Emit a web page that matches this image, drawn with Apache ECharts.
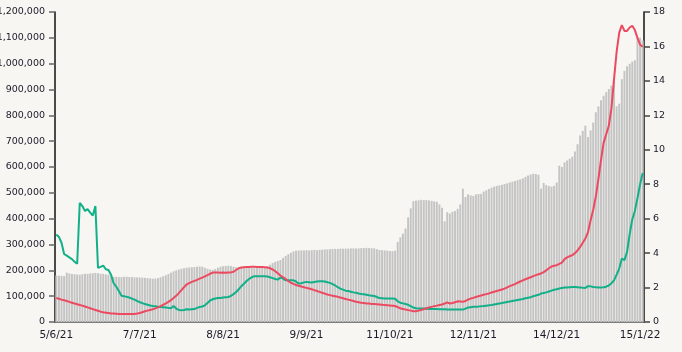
<!DOCTYPE html>
<html>
<head>
<meta charset="utf-8">
<script src="https://cdn.jsdelivr.net/npm/echarts@6/dist/echarts.min.js"></script>
<style>
html,body{margin:0;padding:0;background:#f7f6f2;}
#chart{width:682px;height:352px;}
</style>
</head>
<body>
<div id="chart"></div>
<script>
var categories = [
'5/6/21','6/6/21','7/6/21','8/6/21','9/6/21','10/6/21','11/6/21','12/6/21','13/6/21','14/6/21','15/6/21','16/6/21','17/6/21','18/6/21','19/6/21','20/6/21','21/6/21','22/6/21','23/6/21','24/6/21','25/6/21','26/6/21','27/6/21','28/6/21','29/6/21','30/6/21',
'1/7/21','2/7/21','3/7/21','4/7/21','5/7/21','6/7/21','7/7/21','8/7/21','9/7/21','10/7/21','11/7/21','12/7/21','13/7/21','14/7/21','15/7/21','16/7/21','17/7/21','18/7/21','19/7/21','20/7/21','21/7/21','22/7/21','23/7/21','24/7/21','25/7/21','26/7/21','27/7/21','28/7/21','29/7/21','30/7/21','31/7/21',
'1/8/21','2/8/21','3/8/21','4/8/21','5/8/21','6/8/21','7/8/21','8/8/21','9/8/21','10/8/21','11/8/21','12/8/21','13/8/21','14/8/21','15/8/21','16/8/21','17/8/21','18/8/21','19/8/21','20/8/21','21/8/21','22/8/21','23/8/21','24/8/21','25/8/21','26/8/21','27/8/21','28/8/21','29/8/21','30/8/21','31/8/21',
'1/9/21','2/9/21','3/9/21','4/9/21','5/9/21','6/9/21','7/9/21','8/9/21','9/9/21','10/9/21','11/9/21','12/9/21','13/9/21','14/9/21','15/9/21','16/9/21','17/9/21','18/9/21','19/9/21','20/9/21','21/9/21','22/9/21','23/9/21','24/9/21','25/9/21','26/9/21','27/9/21','28/9/21','29/9/21','30/9/21',
'1/10/21','2/10/21','3/10/21','4/10/21','5/10/21','6/10/21','7/10/21','8/10/21','9/10/21','10/10/21','11/10/21','12/10/21','13/10/21','14/10/21','15/10/21','16/10/21','17/10/21','18/10/21','19/10/21','20/10/21','21/10/21','22/10/21','23/10/21','24/10/21','25/10/21','26/10/21','27/10/21','28/10/21','29/10/21','30/10/21','31/10/21',
'1/11/21','2/11/21','3/11/21','4/11/21','5/11/21','6/11/21','7/11/21','8/11/21','9/11/21','10/11/21','11/11/21','12/11/21','13/11/21','14/11/21','15/11/21','16/11/21','17/11/21','18/11/21','19/11/21','20/11/21','21/11/21','22/11/21','23/11/21','24/11/21','25/11/21','26/11/21','27/11/21','28/11/21','29/11/21','30/11/21',
'1/12/21','2/12/21','3/12/21','4/12/21','5/12/21','6/12/21','7/12/21','8/12/21','9/12/21','10/12/21','11/12/21','12/12/21','13/12/21','14/12/21','15/12/21','16/12/21','17/12/21','18/12/21','19/12/21','20/12/21','21/12/21','22/12/21','23/12/21','24/12/21','25/12/21','26/12/21','27/12/21','28/12/21','29/12/21','30/12/21','31/12/21',
'1/1/22','2/1/22','3/1/22','4/1/22','5/1/22','6/1/22','7/1/22','8/1/22','9/1/22','10/1/22','11/1/22','12/1/22','13/1/22','14/1/22','15/1/22','16/1/22'
];

var barValues = [
180000,179000,179000,178000,191000,188000,186000,185000,184000,183000,185000,187000,186000,188000,189000,190000,189000,187000,186000,184000,183000,176000,175000,175000,174000,174000,
175000,175000,174000,174000,173000,173000,172000,172000,171000,170000,169000,168000,168000,170000,173000,177000,181000,186000,191000,196000,200000,203000,206000,208000,210000,211000,212000,213000,214000,215000,214000,
210000,206000,203000,202000,205000,210000,214000,216000,217000,218000,217000,214000,212000,211000,211000,210000,210000,210000,211000,210000,209000,209000,210000,212000,216000,222000,228000,233000,236000,240000,248000,
256000,262000,268000,273000,276000,277000,277000,277000,278000,277000,278000,279000,278000,279000,280000,281000,281000,282000,283000,283000,283000,284000,284000,284000,284000,285000,285000,285000,285000,286000,
286000,287000,286000,286000,285000,282000,279000,278000,277000,276000,275000,274000,276000,310000,328000,342000,362000,405000,440000,468000,470000,471000,473000,472000,472000,470000,469000,467000,465000,455000,442000,
390000,425000,420000,427000,430000,438000,455000,516000,484000,494000,490000,488000,494000,495000,496000,505000,510000,515000,520000,524000,527000,529000,531000,534000,537000,540000,543000,546000,549000,552000,
556000,562000,567000,571000,574000,573000,570000,516000,538000,530000,526000,524000,527000,540000,605000,600000,618000,625000,632000,640000,660000,688000,722000,740000,760000,716000,742000,772000,812000,835000,858000,
876000,890000,902000,915000,935000,835000,845000,940000,972000,990000,1000000,1008000,1013000,1103000,1100000,1090000
];

var redValues = [
1.39,1.35,1.30,1.26,1.22,1.17,1.12,1.07,1.03,0.99,0.95,0.90,0.85,0.80,0.75,0.70,0.65,0.60,0.56,0.54,0.52,0.50,0.49,0.48,0.47,0.47,
0.46,0.46,0.46,0.47,0.47,0.49,0.52,0.57,0.62,0.66,0.70,0.74,0.79,0.85,0.92,1.00,1.08,1.17,1.27,1.39,1.52,1.68,1.85,2.02,2.18,2.26,2.33,2.39,2.45,2.52,2.58,
2.65,2.72,2.80,2.87,2.88,2.87,2.86,2.87,2.86,2.87,2.88,2.92,3.02,3.12,3.16,3.18,3.19,3.20,3.21,3.21,3.20,3.20,3.19,3.18,3.16,3.12,3.05,2.95,2.83,2.70,2.60,
2.50,2.38,2.28,2.21,2.15,2.10,2.06,2.02,1.98,1.94,1.90,1.85,1.80,1.75,1.70,1.65,1.60,1.56,1.52,1.49,1.46,1.42,1.38,1.34,1.30,1.26,1.22,1.18,1.15,1.12,
1.10,1.08,1.07,1.05,1.04,1.03,1.02,1.00,0.98,0.97,0.96,0.95,0.93,0.86,0.80,0.76,0.72,0.69,0.66,0.63,0.62,0.66,0.70,0.75,0.80,0.84,0.88,0.92,0.95,0.99,1.02,
1.07,1.14,1.07,1.10,1.15,1.20,1.19,1.17,1.22,1.30,1.36,1.40,1.45,1.50,1.54,1.58,1.62,1.66,1.71,1.76,1.80,1.84,1.89,1.94,2.01,2.08,2.14,2.20,2.28,2.35,
2.42,2.48,2.54,2.60,2.66,2.72,2.77,2.82,2.90,3.00,3.12,3.22,3.27,3.30,3.38,3.45,3.65,3.75,3.82,3.88,4.00,4.15,4.36,4.60,4.85,5.20,5.90,6.50,7.27,8.30,9.40,
10.40,10.90,11.40,12.40,14.10,15.70,16.80,17.24,16.90,16.90,17.10,17.20,16.95,16.50,16.10,15.98
];

var greenValues = [
5.08,4.94,4.60,3.95,3.85,3.75,3.65,3.50,3.38,6.92,6.73,6.45,6.55,6.35,6.18,6.74,3.14,3.20,3.28,3.06,3.02,2.75,2.25,2.05,1.80,1.52,
1.50,1.46,1.42,1.36,1.30,1.22,1.15,1.10,1.04,1.00,0.96,0.93,0.91,0.88,0.87,0.86,0.84,0.82,0.80,0.93,0.78,0.70,0.68,0.70,0.74,0.73,0.74,0.75,0.82,0.87,0.90,
0.97,1.10,1.25,1.32,1.36,1.39,1.40,1.42,1.44,1.45,1.52,1.62,1.74,1.90,2.08,2.22,2.38,2.50,2.60,2.66,2.66,2.66,2.65,2.66,2.64,2.60,2.55,2.50,2.46,2.58,2.52,
2.42,2.42,2.43,2.42,2.35,2.23,2.25,2.30,2.33,2.31,2.29,2.32,2.35,2.36,2.37,2.35,2.31,2.27,2.20,2.12,2.03,1.94,1.88,1.82,1.80,1.76,1.72,1.70,1.66,1.63,
1.61,1.58,1.55,1.53,1.51,1.45,1.39,1.38,1.37,1.37,1.36,1.36,1.35,1.20,1.12,1.08,1.04,1.00,0.92,0.84,0.80,0.79,0.78,0.78,0.77,0.76,0.76,0.75,0.75,0.74,0.74,
0.74,0.73,0.73,0.72,0.72,0.72,0.72,0.72,0.78,0.84,0.86,0.88,0.89,0.90,0.92,0.93,0.95,0.97,0.99,1.02,1.05,1.08,1.10,1.13,1.16,1.19,1.22,1.25,1.28,1.31,
1.34,1.38,1.41,1.44,1.50,1.54,1.58,1.65,1.68,1.72,1.77,1.82,1.87,1.90,1.94,1.98,2.00,2.01,2.02,2.03,2.03,2.02,2.01,1.99,1.98,2.08,2.07,2.03,2.02,2.00,2.00,
2.02,2.05,2.12,2.25,2.42,2.75,3.10,3.68,3.59,4.07,5.10,5.95,6.45,7.20,8.00,8.65
];

var leftTicks = {min: 0, max: 1200000, interval: 100000};
var rightTicks = {min: 0, max: 18, interval: 2};

var chart = echarts.init(document.getElementById('chart'), null, {renderer: 'canvas'});
var xFont = {fontFamily: 'DejaVu Sans', fontSize: 10.5, color: '#1a1a2a'};
var yFont = {fontFamily: 'DejaVu Sans', fontSize: 9.5, color: '#1a1a2a'};
chart.setOption({
  backgroundColor: '#f7f6f2',
  animation: false,
  grid: {left: 55, right: 38, top: 12, bottom: 30, containLabel: false, outerBoundsMode: 'none'},
  xAxis: {
    type: 'category',
    data: categories,
    boundaryGap: true,
    axisLine: {lineStyle: {color: '#555', width: 1.5}},
    axisTick: {alignWithLabel: true, interval: 31, length: 5, lineStyle: {color: '#555', width: 1.5}},
    axisLabel: Object.assign({interval: 31, margin: 8}, xFont),
    splitLine: {show: false}
  },
  yAxis: [
    {
      type: 'value', min: leftTicks.min, max: leftTicks.max, interval: leftTicks.interval,
      axisLine: {show: true, lineStyle: {color: '#111', width: 1.5}},
      axisTick: {show: true, length: 6, lineStyle: {color: '#666', width: 1.5}},
      axisLabel: Object.assign({margin: 10, formatter: function (v) { return v.toLocaleString('en-US'); }}, yFont),
      splitLine: {show: false}
    },
    {
      type: 'value', min: rightTicks.min, max: rightTicks.max, interval: rightTicks.interval,
      position: 'right',
      axisLine: {show: true, lineStyle: {color: '#111', width: 1.5}},
      axisTick: {show: true, length: 6, lineStyle: {color: '#444', width: 1.5}},
      axisLabel: Object.assign({margin: 9}, yFont),
      splitLine: {show: false}
    }
  ],
  series: [
    {
      type: 'bar', data: barValues, yAxisIndex: 0,
      barCategoryGap: '25%',
      itemStyle: {color: '#c4c4c4'},
      z: 1
    },
    {
      type: 'line', data: redValues, yAxisIndex: 1,
      showSymbol: false, symbol: 'none',
      lineStyle: {color: '#ec4a60', width: 2},
      z: 3
    },
    {
      type: 'line', data: greenValues, yAxisIndex: 1,
      showSymbol: false, symbol: 'none',
      lineStyle: {color: '#12b088', width: 2},
      z: 2
    }
  ]
});
</script>
</body>
</html>
